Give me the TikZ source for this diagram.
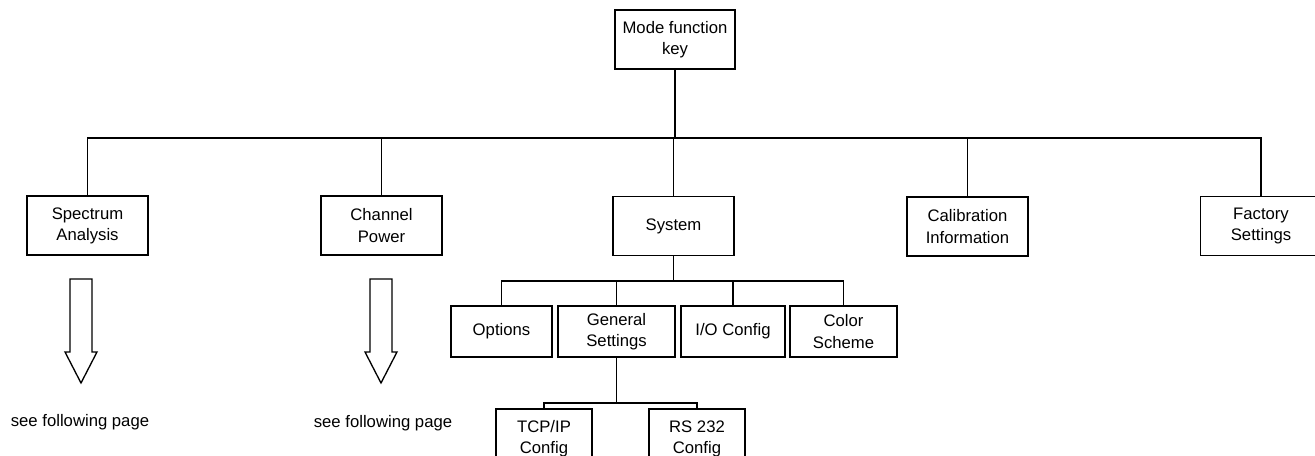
\documentclass[tikz,border=0pt]{standalone}
\usepackage{fontspec}
\setmainfont{Liberation Sans}
\usetikzlibrary{positioning}

\begin{document}
\begin{tikzpicture}[
    x=0.02cm, y=-0.02cm,
    font=\fontsize{9.5}{12}\selectfont,
    line width=0.75pt,
    box/.style={draw, align=center, inner sep=2pt, minimum width=2.42cm, minimum height=1.18cm},
    subbox/.style={draw, align=center, inner sep=2pt, minimum height=1.02cm},
    cfgbox/.style={draw, align=center, inner sep=2pt, minimum width=1.92cm, minimum height=1.2cm},
    note/.style={inner sep=1pt}
  ]
  \useasboundingbox (0,0) rectangle (1315,456);
  \clip (0,0) rectangle (1315,456);
  % root and first level
  \node[box, minimum width=2.4cm] (mode) at (675,39.5) {Mode function\\key};
  \node[box] (spec) at (87.5,225.5) {Spectrum\\Analysis};
  \node[box] (chan) at (381.5,225.5) {Channel\\Power};
  \node[box] (sys) at (673.5,226) {System};
  \node[box] (cal) at (967.5,226.5) {Calibration\\Information};
  \node[box] (fact) at (1261,226) {Factory\\Settings};
  % system submenu
  \node[subbox, minimum width=2.02cm] (opt) at (501.5,331.5) {Options};
  \node[subbox, minimum width=2.34cm] (gen) at (616.5,331.5) {General\\Settings};
  \node[subbox, minimum width=2.08cm] (io) at (733,331.5) {I/O Config};
  \node[subbox, minimum width=2.14cm] (col) at (843.5,331.5) {Color\\Scheme};
  % general settings submenu
  \node[cfgbox] (tcp) at (544,439) {TCP/IP\\Config};
  \node[cfgbox] (rs) at (697,439) {RS 232\\Config};
  % notes
  \node[note] (specnote) at (80,422) {see following page};
  \node[note] (channote) at (383,423) {see following page};
  % bus lines
  \coordinate (bus) at (675,138);
  \coordinate (sysbus) at (673.5,281);
  \coordinate (genbus) at (620,403);
  \draw (mode.south) -- (bus);
  \foreach \n in {spec,chan,sys,cal,fact}
    \draw (\n.north) |- (bus);
  \draw (sys.south) -- (sysbus);
  \foreach \n in {opt,gen,io,col}
    \draw (\n.north) |- (sysbus);
  \draw (gen.south |- genbus) -- (gen.south);
  \foreach \n in {tcp,rs}
    \draw (\n.north) |- (genbus);
  % hollow arrows
  \foreach \ax in {81,381}
    \draw (\ax-11,279) -- (\ax+11,279) -- (\ax+11,352) -- (\ax+16,352)
      -- (\ax,383) -- (\ax-16,352) -- (\ax-11,352) -- cycle;
\end{tikzpicture}
\end{document}
